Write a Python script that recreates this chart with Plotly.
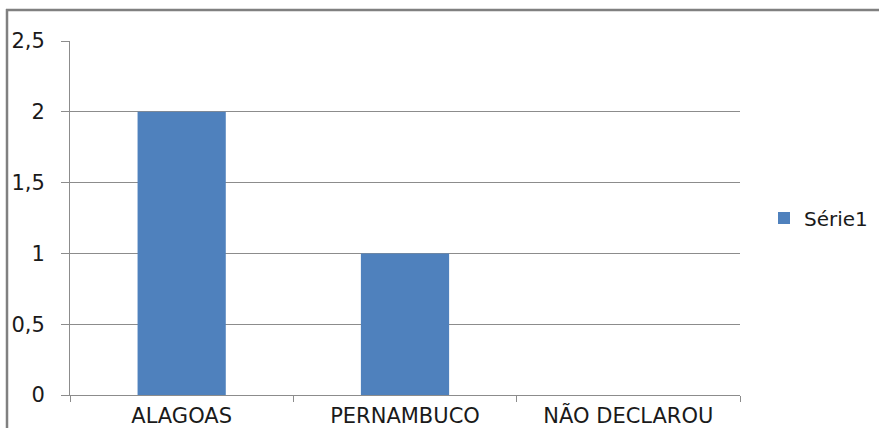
import plotly.graph_objects as go

categories = ["ALAGOAS", "PERNAMBUCO", "NÃO DECLAROU"]
values = [2, 1, 0]
y_ticks = [0, 0.5, 1, 1.5, 2, 2.5]
y_tick_labels = ["0", "0,5", "1", "1,5", "2", "2,5"]

W, H = 879, 428
L, R, T, B = 70, 139, 41, 33
pw, ph = W - L - R, H - T - B

def px_x(p):
    return (p - L) / pw

def px_y(p):
    return (H - B - p) / ph

fig = go.Figure()
fig.add_trace(go.Bar(
    x=categories, y=values, name="Série1",
    marker=dict(color="#4F81BD", line=dict(width=0)),
    showlegend=True,
))

fig.update_layout(
    width=W, height=H,
    margin=dict(l=L, r=R, t=T, b=B, autoexpand=False),
    paper_bgcolor="white", plot_bgcolor="white",
    bargap=0.605,
    font=dict(family="DejaVu Sans, sans-serif", size=21, color="#1a1a1a"),
    showlegend=True,
    legend=dict(x=px_x(764), y=px_y(218), xanchor="left", yanchor="middle",
                font=dict(size=20, color="#1a1a1a"), bgcolor="rgba(0,0,0,0)",
                itemwidth=30),
    xaxis=dict(
        automargin=False,
        showline=True, linecolor="#8c8c8c", linewidth=1,
        ticks="outside", ticklen=6, tickcolor="#8c8c8c", tickson="boundaries",
        showgrid=False, tickfont=dict(size=21), ticklabelstandoff=2,
    ),
    yaxis=dict(
        automargin=False,
        range=[0, 2.5], tickvals=y_ticks, ticktext=y_tick_labels,
        showline=True, linecolor="#8c8c8c", linewidth=1,
        ticks="outside", ticklen=8, tickcolor="#8c8c8c",
        showgrid=True, gridcolor="#8c8c8c", gridwidth=1,
        zeroline=False, tickfont=dict(size=21), ticklabelstandoff=12,
    ),
    shapes=[
        dict(type="line", xref="paper", yref="paper",
             x0=px_x(6), x1=px_x(880), y0=px_y(10), y1=px_y(10),
             line=dict(color="#808080", width=2.5)),
        dict(type="line", xref="paper", yref="paper",
             x0=px_x(7), x1=px_x(7), y0=px_y(9), y1=px_y(430),
             line=dict(color="#808080", width=2.5)),
    ],
)

fig.write_html(
    "out.html",
    config={"displayModeBar": False},
    post_script="document.body.style.margin='0';document.body.style.padding='0';document.body.style.overflow='hidden';",
)
